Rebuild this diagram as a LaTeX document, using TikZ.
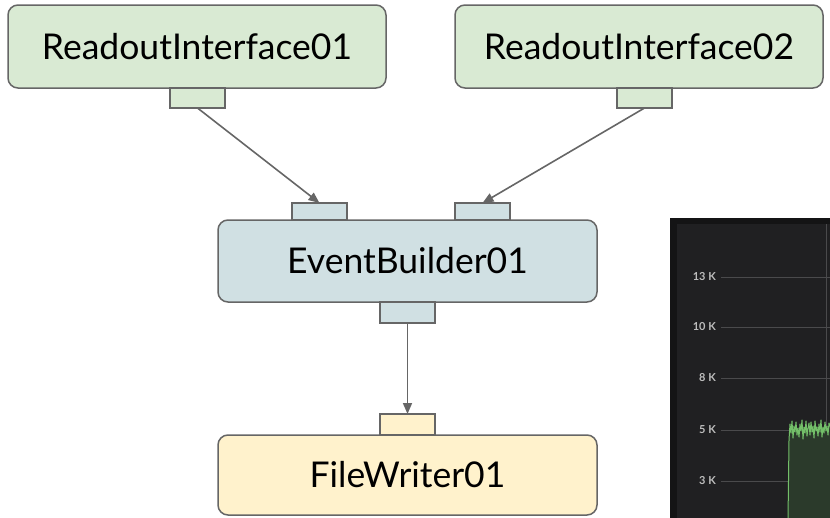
\documentclass[tikz,border=0pt]{standalone}
\usepackage{fontspec}
\setmainfont{Lato}
\usetikzlibrary{arrows.meta}
\definecolor{edgegray}{HTML}{666666}
\definecolor{rigreen}{HTML}{D9EAD3}
\definecolor{ebblue}{HTML}{D0E0E3}
\definecolor{fwyellow}{HTML}{FFF2CC}
\definecolor{panelout}{HTML}{141415}
\definecolor{panelin}{HTML}{202022}
\definecolor{gridc}{HTML}{4A4A4C}
\definecolor{tickc}{HTML}{BDBDBD}
\definecolor{trace}{HTML}{73BF69}
\definecolor{tracefill}{HTML}{2B3A2B}
\tikzset{
  comp/.style={draw=edgegray, line width=1.5pt, rounded corners=10pt, inner sep=0pt, outer sep=0pt,
    font=\fontsize{35.5}{35.5}\selectfont, text=black},
  port/.style={draw=edgegray, line width=1.5pt, inner sep=0pt, outer sep=0pt, minimum width=55pt},
  conn/.style={draw=edgegray, line width=1.6pt, -{Triangle[length=11pt,width=9pt]}},
  ticklab/.style={font=\fontsize{11}{11}\selectfont\bfseries, text=tickc, inner sep=0pt, anchor=east},
}
\begin{document}
\begin{tikzpicture}[x=1pt,y=-1pt]
\useasboundingbox (0,0) rectangle (830,517);
\begin{scope}
\clip (0,0) rectangle (830,517);
% dark panel
\fill[panelout] (670,218) rectangle (835,520);
\fill[panelin] (677,224) rectangle (835,520);
\foreach \yy in {277,327,378,430,481}{
  \draw[gridc, line width=0.7pt] (721,\yy) -- (835,\yy);
}
\draw[gridc, line width=0.7pt] (826,224) -- (826,520);
\node[ticklab] (t13) at (716,277) {13 K};
\node[ticklab] (t10) at (716,327) {10 K};
\node[ticklab] (t8) at (716,378) {8 K};
\node[ticklab] (t5) at (716,430) {5 K};
\node[ticklab] (t3) at (716,481) {3 K};
\fill[tracefill] (788,520) -- (789,440) -- (790,424) -- (791,433) -- (792,421) -- (793,438) -- (794,426) -- (795,432) -- (796,422) -- (797,435) -- (798,428) -- (799,437) -- (800,424) -- (801,431) -- (802,420) -- (803,439) -- (804,427) -- (805,433) -- (806,421) -- (807,436) -- (808,428) -- (809,423) -- (810,435) -- (811,422) -- (812,432) -- (813,426) -- (814,438) -- (815,421) -- (816,431) -- (817,427) -- (818,436) -- (819,424) -- (820,432) -- (821,420) -- (822,437) -- (823,427) -- (824,433) -- (825,422) -- (826,431) -- (827,426) -- (828,435) -- (829,423) -- (831,429) -- (835,429) -- (835,520) -- cycle;
\draw[trace, line width=1pt, line join=round] (788,520) -- (789,440) -- (790,424) -- (791,433) -- (792,421) -- (793,438) -- (794,426) -- (795,432) -- (796,422) -- (797,435) -- (798,428) -- (799,437) -- (800,424) -- (801,431) -- (802,420) -- (803,439) -- (804,427) -- (805,433) -- (806,421) -- (807,436) -- (808,428) -- (809,423) -- (810,435) -- (811,422) -- (812,432) -- (813,426) -- (814,438) -- (815,421) -- (816,431) -- (817,427) -- (818,436) -- (819,424) -- (820,432) -- (821,420) -- (822,437) -- (823,427) -- (824,433) -- (825,422) -- (826,431) -- (827,426) -- (828,435) -- (829,423) -- (831,429) -- (835,429);
% components
\node[comp, fill=rigreen, minimum width=378pt, minimum height=83pt] (ri1) at (197,46.5) {ReadoutInterface01};
\node[comp, fill=rigreen, minimum width=368pt, minimum height=83pt] (ri2) at (639,46.5) {ReadoutInterface02};
\node[port, fill=rigreen, minimum height=20pt] (ri1o) at (197.5,98) {};
\node[port, fill=rigreen, minimum height=20pt] (ri2o) at (644.5,98) {};
\node[comp, fill=ebblue, minimum width=379pt, minimum height=82pt] (eb) at (407.5,261) {\raisebox{-2pt}{EventBuilder01}};
\node[port, fill=ebblue, minimum height=17pt] (ebi1) at (319.5,211.5) {};
\node[port, fill=ebblue, minimum height=17pt] (ebi2) at (482.5,211.5) {};
\node[port, fill=ebblue, minimum height=21pt] (ebo) at (407.5,312.5) {};
\node[comp, fill=fwyellow, minimum width=379pt, minimum height=80pt] (fw) at (407.5,475) {\raisebox{-2pt}{FileWriter01}};
\node[port, fill=fwyellow, minimum height=21pt] (fwi) at (407.5,424.5) {};
% connectors
\draw[conn] (ri1o.south) -- (ebi1.north);
\draw[conn] (ri2o.south) -- (ebi2.north);
\draw[conn] (ebo.south) -- (fwi.north);
\end{scope}
\end{tikzpicture}
\end{document}
